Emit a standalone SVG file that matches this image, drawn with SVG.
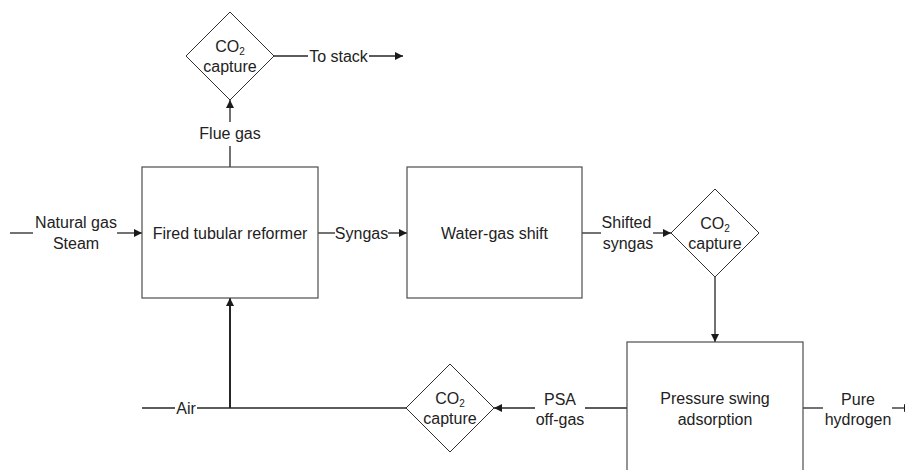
<svg xmlns="http://www.w3.org/2000/svg" width="905" height="470" viewBox="0 0 905 470">
<defs>
<style>
text{font-family:"Liberation Sans",Arial,sans-serif;font-size:16px;fill:#222;text-anchor:middle}
.box{fill:#fff;stroke:#4d4d4d;stroke-width:1.2}
.dia{fill:#fff;stroke:#333;stroke-width:1}
.ln{fill:none;stroke:#262626;stroke-width:1.3}
.thick{stroke-width:2}
.sub{font-size:10px}
</style>
<marker id="arr" viewBox="0 0 10 10" refX="10" refY="5" markerWidth="9" markerHeight="8" orient="auto" markerUnits="userSpaceOnUse">
<path d="M0,0 L10,5 L0,10 z" fill="#1a1a1a"/>
</marker>
</defs>
<rect width="905" height="470" fill="#fff"/>

<g id="connectors">
<!-- Natural gas / Steam -->
<line class="ln" x1="10" y1="233" x2="33" y2="233"/>
<line class="ln" x1="117" y1="233" x2="142" y2="233" marker-end="url(#arr)"/>
<text x="76" y="228">Natural gas</text>
<text x="76" y="249">Steam</text>
<!-- Syngas -->
<line class="ln" x1="318" y1="233" x2="335" y2="233"/>
<line class="ln" x1="388" y1="233" x2="407" y2="233" marker-end="url(#arr)"/>
<text x="361.5" y="238.5">Syngas</text>
<!-- Shifted syngas -->
<line class="ln" x1="582" y1="233" x2="601" y2="233"/>
<line class="ln" x1="653" y1="233" x2="671" y2="233" marker-end="url(#arr)"/>
<text x="626.5" y="228">Shifted</text>
<text x="628" y="248.5">syngas</text>
<!-- CO2 capture to PSA -->
<line class="ln" x1="715" y1="277" x2="715" y2="342" marker-end="url(#arr)"/>
<!-- PSA off-gas -->
<line class="ln" x1="627" y1="408" x2="585" y2="408"/>
<line class="ln" x1="535" y1="408" x2="494" y2="408" marker-end="url(#arr)"/>
<text x="560" y="405">PSA</text>
<text x="560" y="425">off-gas</text>
<!-- Air -->
<line class="ln" x1="406" y1="408" x2="197" y2="408"/>
<line class="ln" x1="175" y1="408" x2="142" y2="408"/>
<text x="186" y="413.5">Air</text>
<line class="ln thick" x1="230" y1="408" x2="230" y2="298" marker-end="url(#arr)"/>
<!-- Flue gas -->
<line class="ln" x1="230" y1="167" x2="230" y2="146"/>
<line class="ln" x1="230" y1="122" x2="230" y2="100" marker-end="url(#arr)"/>
<text x="230" y="138.5">Flue gas</text>
<!-- To stack -->
<line class="ln" x1="274" y1="56" x2="308" y2="56"/>
<line class="ln" x1="369" y1="56" x2="403" y2="56" marker-end="url(#arr)"/>
<text x="338.5" y="61.5">To stack</text>
<!-- Pure hydrogen -->
<line class="ln" x1="803" y1="408" x2="823" y2="408"/>
<line class="ln" x1="892" y1="408" x2="912" y2="408" marker-end="url(#arr)"/>
<text x="858" y="405">Pure</text>
<text x="858" y="425">hydrogen</text>
</g>

<g id="reformer">
<rect class="box" x="142" y="167" width="176" height="131"/>
<text x="230" y="238.5">Fired tubular reformer</text>
</g>

<g id="wgs">
<rect class="box" x="407" y="167" width="175" height="131"/>
<text x="494.5" y="238.5">Water-gas shift</text>
</g>

<g id="psa">
<rect class="box" x="627" y="342" width="176" height="140"/>
<text x="715" y="404">Pressure swing</text>
<text x="715" y="425">adsorption</text>
</g>

<g id="co2-top">
<polygon class="dia" points="230,12 274,56 230,100 186,56"/>
<text x="230" y="52">CO<tspan class="sub" dy="3">2</tspan></text>
<text x="230" y="72">capture</text>
</g>

<g id="co2-right">
<polygon class="dia" points="715,189 759,233 715,277 671,233"/>
<text x="715" y="229">CO<tspan class="sub" dy="3">2</tspan></text>
<text x="715" y="249">capture</text>
</g>

<g id="co2-bottom">
<polygon class="dia" points="450,364 494,408 450,452 406,408"/>
<text x="450" y="404">CO<tspan class="sub" dy="3">2</tspan></text>
<text x="450" y="424">capture</text>
</g>
</svg>
